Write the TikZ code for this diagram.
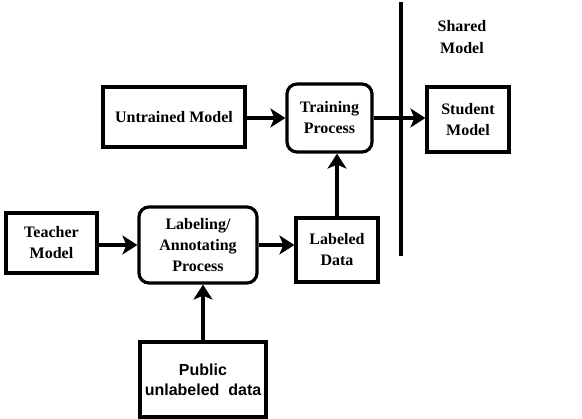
\documentclass[tikz,border=0pt]{standalone}
\usepackage{fontspec}
\setmainfont{Liberation Serif}
\newfontfamily\helv{Liberation Sans}
\usetikzlibrary{arrows.meta}
\tikzset{
  box/.style={draw, line width=3.2pt, inner sep=0pt, align=center, font=\fontsize{16}{21}\selectfont\bfseries},
  rbox/.style={box, rounded corners=10pt},
  conn/.style={line width=3.2pt, -{Stealth[length=15pt,width=19pt,inset=4pt]}},
}
\begin{document}
\begin{tikzpicture}[x=1pt,y=-1pt]
\useasboundingbox (0,0) rectangle (582,419);
\node[box, minimum width=142pt, minimum height=60pt] (untrained) at (174,117) {Untrained Model};
\node[rbox, minimum width=85pt, minimum height=68pt] (training) at (329.5,118) {Training\\Process};
\node[box, minimum width=82pt, minimum height=65pt] (student) at (468,119.5) {Student\\Model};
\node[box, minimum width=91pt, minimum height=60pt] (teacher) at (51.5,243) {Teacher\\Model};
\node[rbox, minimum width=118pt, minimum height=76pt] (labeling) at (198,245) {Labeling/\\Annotating\\Process};
\node[box, minimum width=82pt, minimum height=64pt] (labeled) at (337,250) {Labeled\\Data};
\node[box, minimum width=126pt, minimum height=75pt, font=\helv\fontsize{16}{20}\selectfont\bfseries] (public) at (203,379.5) {Public\\unlabeled~~data};
\node[font=\fontsize{16}{22}\selectfont\bfseries, align=center] (shared) at (462,37) {Shared\\Model};
\coordinate (ltop) at (401,2);
\coordinate (lbot) at (401,256);
\draw[line width=3.2pt] (ltop) -- (lbot);
\draw[conn] (untrained.east |- training.west) -- (training.west);
\draw[conn] (training.east) -- (training.east -| student.west);
\draw[conn] (teacher.east |- labeling.west) -- (labeling.west);
\draw[conn] (labeling.east) -- (labeling.east -| labeled.west);
\draw[conn] (labeled.north) -- (labeled.north |- training.south);
\draw[conn] (public.north) -- (public.north |- labeling.south);
\end{tikzpicture}
\end{document}
